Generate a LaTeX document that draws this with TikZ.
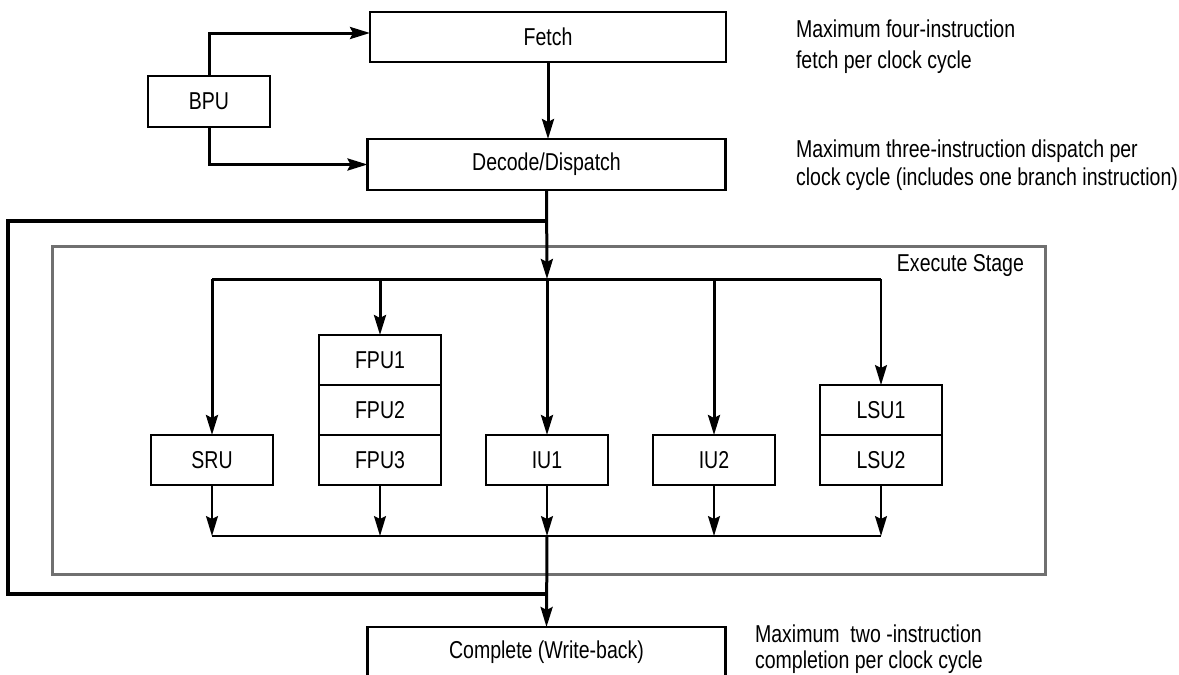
\documentclass[tikz,border=0pt]{standalone}
\usepackage{fontspec}
\setmainfont{Liberation Sans}[FakeStretch=0.80]
\usepackage{tikz}
\usetikzlibrary{positioning,calc,arrows.meta}
\definecolor{Ink}{HTML}{000000}
\definecolor{Frame}{HTML}{707070}

\begin{document}
\begin{tikzpicture}[
    x=0.5pt,
    y=-0.5pt,
    every node/.style={font=\fontsize{12.2}{15}\selectfont, text=Ink},
    UnitBox/.style={draw=Ink, line width=1.25pt, fill=white, outer sep=0pt,
                    minimum width=61pt, minimum height=25pt, inner sep=0pt},
    Wire/.style={Ink, line width=1.5pt},
    ThinWire/.style={Ink, line width=1pt},
    LoopWire/.style={Ink, line width=1.65pt},
    >={Stealth[length=10pt,width=6pt,inset=1.5pt]}
]
\useasboundingbox (0,0) rectangle (1179,675);
\clip (0,0) rectangle (1179,675);

% Front end
\node[UnitBox, minimum width=178pt] (nFetch) at (548,37) {Fetch};
\node[UnitBox, minimum width=179pt, minimum height=25.5pt] (nDecode) at (546.5,164.5) {Decode/Dispatch};
\node[UnitBox, minimum height=25.5pt] (nBPU) at (209,101.5) {BPU};

\draw[Wire, ->] (nBPU.north) |- ([yshift=2pt]nFetch.west);
\draw[Wire, ->] (nBPU.south) |- (nDecode.west);
\draw[Wire, ->] (nFetch.south) -- (nFetch.south |- nDecode.north);

% Execute stage
\node[draw=Frame, line width=1.5pt, minimum width=496.5pt, minimum height=164pt,
      inner sep=0pt] (nExec) at (548.5,410) {};
\node[anchor=base east] (nExecLbl) at (1031,271) {Execute Stage};

\node[UnitBox] (nSRU) at (212,460) {SRU};
\node[UnitBox] (nFPU3) at (380,460) {FPU3};
\node[UnitBox, above=0pt of nFPU3] (nFPU2) {FPU2};
\node[UnitBox, above=0pt of nFPU2] (nFPU1) {FPU1};
\node[UnitBox] (nIU1) at (547,460) {IU1};
\node[UnitBox] (nIU2) at (714,460) {IU2};
\node[UnitBox] (nLSU2) at (881,460) {LSU2};
\node[UnitBox, above=0pt of nLSU2] (nLSU1) {LSU1};

% Complete stage (cut off at the page edge)
\node[UnitBox, minimum width=179pt, anchor=north] (nComplete) at (546.5,627) {Complete (Write-back)};

\coordinate (cLoopTop) at (547,221);
\coordinate (cFork) at (547,279);
\coordinate (cJoin) at (547,536);
\coordinate (cLoopBot) at (547,594);

% Dispatch bus
\draw[Wire, ->] (nDecode.south) -- (cFork);
\draw[Wire] (nSRU.north |- cFork) -- (nLSU1.north |- cFork);
\foreach \u in {nSRU,nFPU1,nIU1,nIU2} {
    \draw[Wire, ->] (\u.north |- cFork) -- (\u.north);
}
\draw[ThinWire, ->] (nLSU1.north |- cFork) -- (nLSU1.north);

% Result bus
\draw[ThinWire] (nSRU.south |- cJoin) -- (nLSU2.south |- cJoin);
\foreach \u in {nSRU,nFPU3,nIU1,nIU2,nLSU2} {
    \draw[ThinWire, ->] (\u.south) -- (\u.south |- cJoin);
}
\draw[Wire, ->] (cJoin) -- (nComplete.north);

% Loop round the execute stage
\draw[LoopWire] (cLoopTop) -- ++(-539,0) |- (cLoopBot);

% Notes (base = last line)
\node[anchor=base west, align=left, font=\fontsize{12.2}{15.5}\selectfont] (nFetchNote) at (789,68)
    {Maximum four-instruction\\fetch per clock cycle};
\node[anchor=base west, align=left, font=\fontsize{12.2}{14}\selectfont] (nDispNote) at (789,185)
    {Maximum three-instruction dispatch per\\clock cycle (includes one branch instruction)};
\node[anchor=base west, align=left, font=\fontsize{12.2}{13}\selectfont] (nCompNote) at (748,668)
    {Maximum\ \ two -instruction\\completion per clock cycle};

\end{tikzpicture}
\end{document}
